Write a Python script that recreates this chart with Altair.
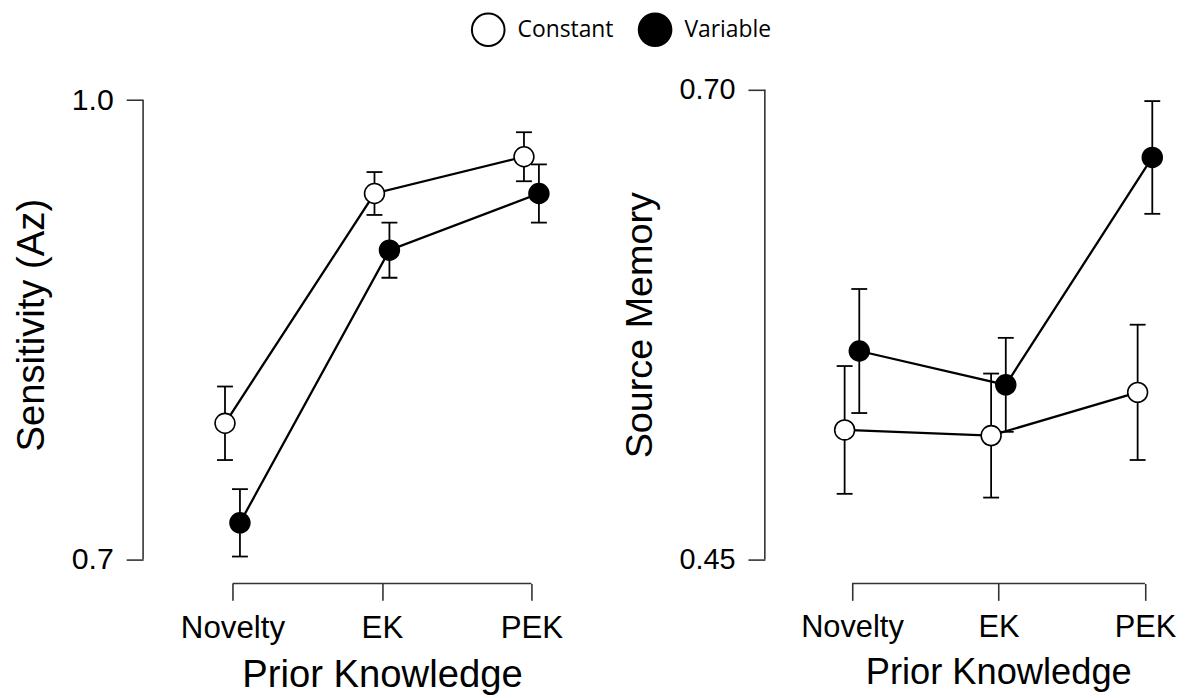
import json
import altair as alt
import pandas as pd

# ---- data ----
categories = ["Novelty", "EK", "PEK"]
conditions = ["Constant", "Variable"]

sens_constant = [0.789, 0.939, 0.963]
sens_constant_err = [0.024, 0.014, 0.016]
sens_variable = [0.724, 0.902, 0.939]
sens_variable_err = [0.022, 0.018, 0.019]

src_constant = [0.519, 0.516, 0.539]
src_constant_err = [0.034, 0.033, 0.036]
src_variable = [0.561, 0.543, 0.664]
src_variable_err = [0.033, 0.025, 0.030]

sens_ticks = [0.7, 1.0]
src_ticks = [0.45, 0.70]

FONT = "Liberation Sans"
AXC = "#333333"
XOFF = 24


def frame(c_vals, c_err, v_vals, v_err):
    rows = []
    for i, cat in enumerate(categories):
        rows.append(dict(category=cat, idx=i + 1, condition=conditions[0],
                         value=c_vals[i], err=c_err[i]))
        rows.append(dict(category=cat, idx=i + 1, condition=conditions[1],
                         value=v_vals[i], err=v_err[i]))
    return pd.DataFrame(rows)


def panel(df, ytitle, ydom, yticks, yfmt, width, height, xdom,
          xtick_fs, ytick_fs, xtitle_fs, ytitle_fs, title_x):
    xscale = alt.Scale(domain=xdom, nice=False, zero=False)
    yscale = alt.Scale(domain=ydom, nice=False, zero=False)
    label_expr = json.dumps(categories) + "[datum.value - 1]"
    xaxis = alt.Axis(values=list(range(1, len(categories) + 1)), labelExpr=label_expr,
                     domain=False, grid=False, offset=XOFF, tickSize=17, tickWidth=1.6,
                     tickColor=AXC, labelFont=FONT, labelFontSize=xtick_fs,
                     labelColor="black", labelPadding=12, labelFlush=False,
                     labelOverlap=False,
                     title="Prior Knowledge", titleFont=FONT, titleFontSize=xtitle_fs,
                     titleFontWeight="normal", titleColor="black", titlePadding=13,
                     titleX=title_x)
    yaxis = alt.Axis(values=yticks, format=yfmt, domain=False, grid=False,
                     tickSize=17, tickWidth=1.6, tickColor=AXC, labelFont=FONT,
                     labelFontSize=ytick_fs, labelColor="black", labelPadding=13,
                     title=ytitle, titleFont=FONT, titleFontSize=ytitle_fs,
                     titleFontWeight="normal", titleColor="black", titlePadding=20)

    base = alt.Chart(df).transform_calculate(
        xpos="datum.idx + (datum.condition == '%s' ? -0.05 : 0.05)" % conditions[0],
        lo="datum.value - datum.err",
        hi="datum.value + datum.err",
    )

    frame_df = pd.DataFrame({"x1": [1], "x2": [len(categories)],
                             "y1": [yticks[0]], "y2": [yticks[-1]]})
    xline = alt.Chart(frame_df).mark_rule(color=AXC, strokeWidth=1.6).encode(
        x=alt.X("x1:Q", scale=xscale, axis=xaxis), x2="x2:Q",
        y=alt.value(height + XOFF))
    yline = alt.Chart(frame_df).mark_rule(color=AXC, strokeWidth=1.6).encode(
        y=alt.Y("y1:Q", scale=yscale, axis=yaxis), y2="y2:Q", x=alt.value(0))

    bars = base.mark_rule(color="black", strokeWidth=1.8).encode(
        x=alt.X("xpos:Q", scale=xscale, axis=xaxis),
        y=alt.Y("lo:Q", scale=yscale, axis=yaxis), y2="hi:Q")
    cap_lo = base.mark_tick(orient="horizontal", size=16, thickness=1.8,
                            color="black", opacity=1).encode(
        x=alt.X("xpos:Q", scale=xscale, axis=xaxis),
        y=alt.Y("lo:Q", scale=yscale, axis=yaxis))
    cap_hi = base.mark_tick(orient="horizontal", size=16, thickness=1.8,
                            color="black", opacity=1).encode(
        x=alt.X("xpos:Q", scale=xscale, axis=xaxis),
        y=alt.Y("hi:Q", scale=yscale, axis=yaxis))
    lines = base.mark_line(color="black", strokeWidth=2.3).encode(
        x=alt.X("xpos:Q", scale=xscale, axis=xaxis),
        y=alt.Y("value:Q", scale=yscale, axis=yaxis),
        detail="condition:N")
    points = base.mark_point(filled=True, shape="circle", size=400, stroke="black",
                             strokeWidth=1.6, opacity=1).encode(
        x=alt.X("xpos:Q", scale=xscale, axis=xaxis),
        y=alt.Y("value:Q", scale=yscale, axis=yaxis),
        fill=alt.Fill("condition:N",
                      scale=alt.Scale(domain=conditions, range=["white", "black"]),
                      legend=alt.Legend(orient="none", legendX=330, legendY=-78,
                                        direction="horizontal", title=None,
                                        symbolType="circle", symbolSize=1080,
                                        symbolStrokeWidth=2,
                                        symbolStrokeColor="black",
                                        labelFont="Open Sans", labelFontSize=23,
                                        labelColor="black", labelOffset=12,
                                        columnPadding=21)))
    return alt.layer(xline, yline, bars, cap_lo, cap_hi, lines, points).properties(
        width=width, height=height)


left = panel(frame(sens_constant, sens_constant_err, sens_variable, sens_variable_err),
             "Sensitivity (Az)", [0.7, 1.0067], sens_ticks, ".1f",
             419, 473, [0.402, 3.186], 31.5, 30.5, 38.5, 38.5, 240.5)
right = panel(frame(src_constant, src_constant_err, src_variable, src_variable_err),
              "Source Memory", [0.45, 0.70], src_ticks, ".2f",
              410, 473, [0.4054, 3.185], 31, 29, 36.5, 38, 235)

chart = alt.hconcat(left, right, spacing=58).properties(
    padding={"left": 4, "top": 2, "right": 5, "bottom": 5},
    background="white",
).configure_view(stroke=None)

chart.save("out.html", embed_options={"renderer": "svg", "actions": False})
